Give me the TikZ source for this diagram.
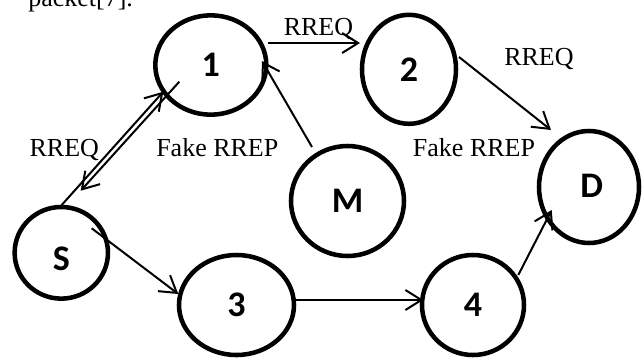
\documentclass[tikz,border=0pt]{standalone}
\usepackage{fontspec}
\setmainfont{Liberation Serif}
\newfontfamily\digitfont{Carlito}
\usetikzlibrary{arrows.meta,shapes.geometric}

\begin{document}
\begin{tikzpicture}[x=0.75pt,y=-0.75pt,
  peer/.style={draw, ellipse, line width=3.4pt, inner sep=0pt,
    font=\digitfont\bfseries\fontsize{27}{32}\selectfont},
  link/.style={line width=1.5pt, -{Straight Barb[length=12pt,width=15pt]}},
  tag/.style={anchor=base west, inner sep=0pt, font=\fontsize{19.5}{23}\selectfont}]
\useasboundingbox (0,0) rectangle (643,358);

% tail of the preceding paragraph
\begin{scope}
  \clip (0,0) rectangle (643,358);
  \node[tag] (cap) at (28,6) {packet[7].};
\end{scope}

% network nodes
\node[peer, minimum width=83.25pt, minimum height=74.5pt]  (n1) at (210.8,65)   {1};
\node[peer, minimum width=70.5pt,  minimum height=81.75pt] (n2) at (409,69.3)   {2};
\node[peer, minimum width=70pt,    minimum height=68.75pt] (S)  at (61.3,252.8) {\raisebox{-4.5pt}[\height][0pt]{S}};
\node[peer, minimum width=86.25pt, minimum height=75pt]    (n3) at (236.5,305)  {3};
\node[peer, minimum width=76.5pt,  minimum height=75pt]    (n4) at (473,305)    {4};
\node[peer, minimum width=75pt,    minimum height=84pt]    (D)  at (589,187)    {\kern4pt\raisebox{1.1pt}[\height][0pt]{D}};
\node[peer, minimum width=84.75pt, minimum height=82.5pt]  (M)  at (347.5,201)  {M};

% route request path
\draw[link] ([shift={(57.2,-22)}]n1.center) -- ([shift={(-49,-26.3)}]n2.center);
\draw[link] ([shift={(50,-12.3)}]n2.center) -- ([shift={(-38,-57)}]D.center);
\draw[link] ([shift={(0.4,-47.8)}]S.center) -- ([shift={(-47.5,26.7)}]n1.center);
\draw[link] ([shift={(-31.5,16.7)}]n1.center) -- ([shift={(19.4,-62.1)}]S.center);
\draw[link] ([shift={(30.4,-24.5)}]S.center) -- ([shift={(-58.2,-11)}]n3.center);
\draw[link] ([shift={(59.5,-5)}]n3.center) -- ([shift={(-49.7,-5)}]n4.center);
\draw[link] ([shift={(45.3,-30)}]n4.center) -- ([shift={(-37.3,23)}]D.center);
% forged reply from the malicious node
\draw[link] ([shift={(-35.5,-54)}]M.center) -- ([shift={(51.2,-4)}]n1.center);

% message labels
\node[tag] (l12) at (283.5,35)    {RREQ};
\node[tag] (l2D) at (504,65)      {RREQ};
\node[tag] (lfD) at (412.7,156.7) {Fake RREP};
\node[tag] (lf1) at (156,156.7)   {Fake RREP};
\node[tag] (lS1) at (29.3,156.7)  {RREQ};
\end{tikzpicture}
\end{document}
